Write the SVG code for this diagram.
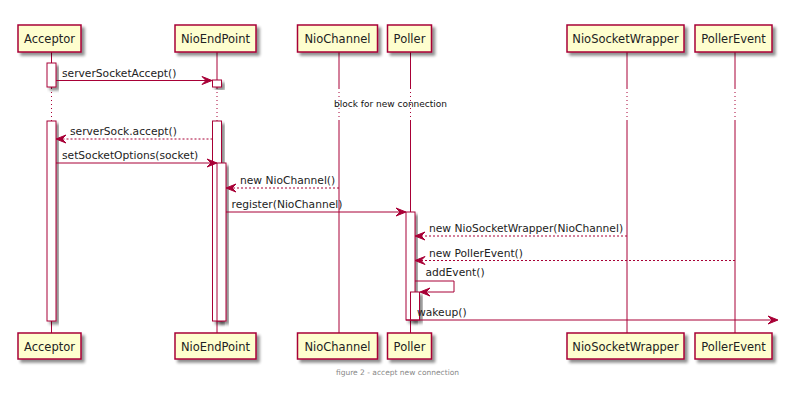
<svg xmlns="http://www.w3.org/2000/svg" width="805" height="402" viewBox="0 0 805 402">
<defs>
<filter id="sh" x="-20%" y="-20%" width="150%" height="160%">
<feGaussianBlur in="SourceAlpha" stdDeviation="1.5"/>
<feOffset dx="2.5" dy="2.5" result="b"/>
<feComponentTransfer><feFuncA type="linear" slope="0.45"/></feComponentTransfer>
<feMerge><feMergeNode/><feMergeNode in="SourceGraphic"/></feMerge>
</filter>
</defs>
<style>
.box{fill:#FEFECE;stroke:#A80036;stroke-width:1.5;filter:url(#sh)}
.pt{font-family:"DejaVu Sans",sans-serif;font-size:11.5px;fill:#222;text-anchor:middle}
.life{stroke:#A80036;stroke-width:1;fill:none}
.dot{stroke:#A80036;stroke-width:1;stroke-dasharray:1,3;fill:none}
.act{fill:#FFFFFF;stroke:#A80036;stroke-width:1;filter:url(#sh)}
.msg{stroke:#A80036;stroke-width:1;fill:none}
.ret{stroke:#A80036;stroke-width:1;stroke-dasharray:2,2;fill:none}
.ah{fill:#A80036;stroke:#A80036;stroke-width:1}
.ml{font-family:"DejaVu Sans",sans-serif;font-size:10.7px;fill:#222}
.dl{font-family:"DejaVu Sans",sans-serif;font-size:9px;fill:#111}
.cap{font-family:"DejaVu Sans",sans-serif;font-size:7.5px;fill:#888;text-anchor:middle}
</style>
<rect width="805" height="402" fill="#FFFFFF"/>

<g id="lifelines">
<line class="life" x1="51.5" y1="52" x2="51.5" y2="88"/><line class="dot" x1="51.5" y1="88" x2="51.5" y2="121"/><line class="life" x1="51.5" y1="121" x2="51.5" y2="333"/>
<line class="life" x1="217" y1="52" x2="217" y2="88"/><line class="dot" x1="217" y1="88" x2="217" y2="121"/><line class="life" x1="217" y1="121" x2="217" y2="333"/>
<line class="life" x1="339" y1="52" x2="339" y2="88"/><line class="dot" x1="339" y1="88" x2="339" y2="121"/><line class="life" x1="339" y1="121" x2="339" y2="333"/>
<line class="life" x1="410.5" y1="52" x2="410.5" y2="88"/><line class="dot" x1="410.5" y1="88" x2="410.5" y2="121"/><line class="life" x1="410.5" y1="121" x2="410.5" y2="333"/>
<line class="life" x1="627" y1="52" x2="627" y2="88"/><line class="dot" x1="627" y1="88" x2="627" y2="121"/><line class="life" x1="627" y1="121" x2="627" y2="333"/>
<line class="life" x1="735" y1="52" x2="735" y2="88"/><line class="dot" x1="735" y1="88" x2="735" y2="121"/><line class="life" x1="735" y1="121" x2="735" y2="333"/>
</g>

<g id="activations">
<rect class="act" x="47" y="63" width="9" height="24"/>
<rect class="act" x="212.5" y="80" width="9" height="7"/>
<rect class="act" x="47" y="121" width="9" height="200"/>
<rect class="act" x="212.5" y="121" width="9" height="200"/>
<rect class="act" x="217" y="163" width="9" height="158"/>
<rect class="act" x="406" y="212" width="9" height="108"/>
<rect class="act" x="410.5" y="292" width="9" height="28"/>
</g>

<g id="Acceptor">
<rect class="box" x="18" y="25" width="63" height="27"/><text class="pt" x="49.5" y="43">Acceptor</text>
<rect class="box" x="18" y="333" width="63" height="26"/><text class="pt" x="49.5" y="350.5">Acceptor</text>
</g>
<g id="NioEndPoint">
<rect class="box" x="175" y="25" width="81" height="27"/><text class="pt" x="215.5" y="43">NioEndPoint</text>
<rect class="box" x="175" y="333" width="81" height="26"/><text class="pt" x="215.5" y="350.5">NioEndPoint</text>
</g>
<g id="NioChannel">
<rect class="box" x="297.5" y="25" width="80" height="27"/><text class="pt" x="337.5" y="43">NioChannel</text>
<rect class="box" x="297.5" y="333" width="80" height="26"/><text class="pt" x="337.5" y="350.5">NioChannel</text>
</g>
<g id="Poller">
<rect class="box" x="387.5" y="25" width="44" height="27"/><text class="pt" x="409.5" y="43">Poller</text>
<rect class="box" x="387.5" y="333" width="44" height="26"/><text class="pt" x="409.5" y="350.5">Poller</text>
</g>
<g id="NioSocketWrapper">
<rect class="box" x="567" y="25" width="117" height="27"/><text class="pt" x="625.5" y="43">NioSocketWrapper</text>
<rect class="box" x="567" y="333" width="117" height="26"/><text class="pt" x="625.5" y="350.5">NioSocketWrapper</text>
</g>
<g id="PollerEvent">
<rect class="box" x="695" y="25" width="77" height="27"/><text class="pt" x="733.5" y="43">PollerEvent</text>
<rect class="box" x="695" y="333" width="77" height="26"/><text class="pt" x="733.5" y="350.5">PollerEvent</text>
</g>

<g id="connectors">
<line class="msg" x1="56" y1="80.5" x2="211" y2="80.5"/>
<polygon class="ah" points="202,76.5 212,80.5 202,84.5 206,80.5"/>
<text class="ml" x="62" y="76.5">serverSocketAccept()</text>

<text class="dl" x="334" y="107">block for new connection</text>

<line class="ret" x1="212.5" y1="139" x2="57" y2="139"/>
<polygon class="ah" points="66,135 56,139 66,143 62,139"/>
<text class="ml" x="70" y="135">serverSock.accept()</text>

<line class="msg" x1="56" y1="163" x2="216" y2="163"/>
<polygon class="ah" points="207,159 217,163 207,167 211,163"/>
<text class="ml" x="62" y="158.5">setSocketOptions(socket)</text>

<line class="ret" x1="339" y1="188" x2="227" y2="188"/>
<polygon class="ah" points="236,184 226,188 236,192 232,188"/>
<text class="ml" x="240" y="184">new NioChannel()</text>

<line class="msg" x1="226" y1="212" x2="405" y2="212"/>
<polygon class="ah" points="396,208 406,212 396,216 400,212"/>
<text class="ml" x="231.5" y="207.5">register(NioChannel)</text>

<line class="ret" x1="627" y1="236" x2="416" y2="236"/>
<polygon class="ah" points="425,232 415,236 425,240 421,236"/>
<text class="ml" x="429" y="232">new NioSocketWrapper(NioChannel)</text>

<line class="ret" x1="735" y1="260.5" x2="416" y2="260.5"/>
<polygon class="ah" points="425,256.5 415,260.5 425,264.5 421,260.5"/>
<text class="ml" x="429" y="256.5">new PollerEvent()</text>

<polyline class="msg" points="415,281 454,281 454,292 421,292"/>
<polygon class="ah" points="430,288 420,292 430,296 426,292"/>
<text class="ml" x="425.5" y="276">addEvent()</text>

<line class="msg" x1="406" y1="320" x2="777" y2="320"/>
<polygon class="ah" points="768,316 778,320 768,324 772,320"/>
<text class="ml" x="417" y="315.5">wakeup()</text>
</g>

<text class="cap" x="397.5" y="375">figure 2 - accept new connection</text>
</svg>
